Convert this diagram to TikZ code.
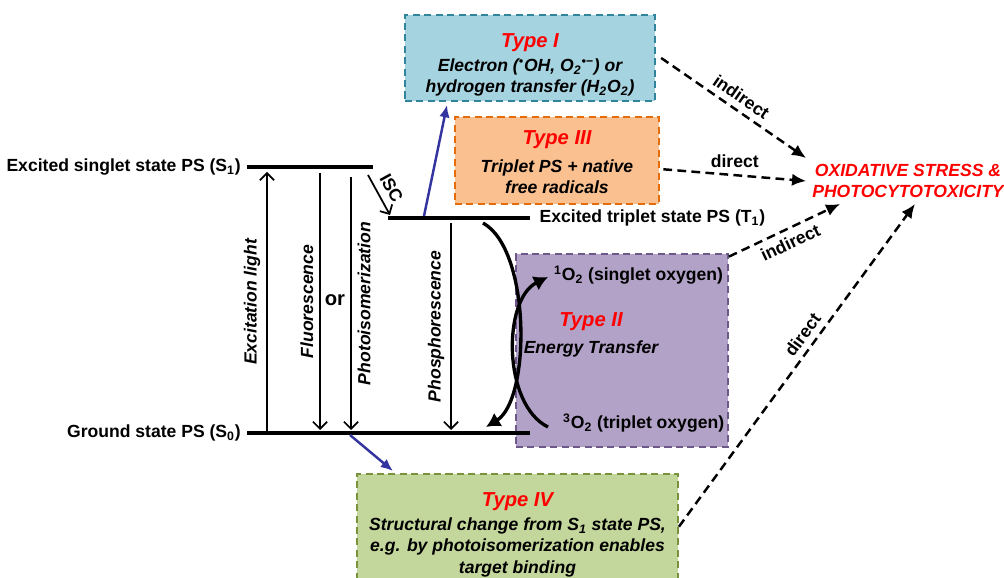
\documentclass[tikz,border=0pt]{standalone}
\usepackage{fontspec}
\setmainfont{Liberation Sans}
\usetikzlibrary{arrows.meta}

\definecolor{oneFill}{RGB}{166,211,224}
\definecolor{oneLine}{RGB}{49,133,155}
\definecolor{twoFill}{RGB}{179,162,199}
\definecolor{twoLine}{RGB}{110,88,138}
\definecolor{threeFill}{RGB}{250,192,144}
\definecolor{threeLine}{RGB}{228,108,10}
\definecolor{fourFill}{RGB}{195,214,155}
\definecolor{fourLine}{RGB}{119,147,60}
\definecolor{routeBlue}{RGB}{52,52,160}

\newcommand{\typename}[1]{{\fontsize{11.5}{14}\selectfont\color{red}#1}}

\begin{document}
\begin{tikzpicture}[
    every node/.style={font=\bfseries},
    lbl/.style={font=\bfseries\itshape},
    level/.style={line width=2.2pt},
    trans/.style={-{Straight Barb[length=4pt,width=8pt]}, line width=1pt},
    box/.style={draw, line width=1pt, dash pattern=on 4pt off 2.5pt, inner sep=0pt},
    boxtext/.style={align=center, font=\bfseries\itshape},
    route/.style={-{Latex[length=7pt,width=6pt]}, line width=1.4pt, draw=routeBlue},
    energy/.style={-{Latex[length=8pt,width=9pt]}, line width=1.9pt},
    effect/.style={-{Latex[length=8pt,width=7pt]}, line width=1.4pt,
                   dash pattern=on 5pt off 3pt}
  ]
  \useasboundingbox (0,0) rectangle (20.08,11.54);

  \node[box, fill=oneFill, draw=oneLine, minimum width=5cm, minimum height=1.72cm]
    (TI) at (10.60,10.38) {};
  \node[box, fill=threeFill, draw=threeLine, minimum width=4.08cm, minimum height=1.74cm]
    (TIII) at (11.14,8.33) {};
  \node[box, fill=twoFill, draw=twoLine, minimum width=4.24cm, minimum height=3.86cm]
    (TII) at (12.44,4.53) {};
  \node[box, fill=fourFill, draw=fourLine, minimum width=6.42cm, minimum height=2.32cm]
    (TIV) at (10.35,0.90) {};

  \node[boxtext] (TIt) at (10.60,10.24)
    {\typename{Type I}\\[2pt]
     Electron (\textsuperscript{•}OH, O\textsubscript{2}\textsuperscript{•−}) or\\
     hydrogen transfer (H\textsubscript{2}O\textsubscript{2})};
  \node[boxtext] (TIIIt) at (11.14,8.29)
    {\typename{Type III}\\[4pt] Triplet PS + native\\ free radicals};
  \node[boxtext] (TIVt) at (10.35,0.85)
    {\typename{Type IV}\\[2pt]
     Structural change from S\textsubscript{1} state PS,\\
     e.g. by photoisomerization enables\\ target binding};

  \node[anchor=west] (O1) at (10.96,6.04) {\textsuperscript{1}O\textsubscript{2} (singlet oxygen)};
  \node[anchor=west] (O3) at (11.14,3.08) {\textsuperscript{3}O\textsubscript{2} (triplet oxygen)};
  \node (TIIt) at (11.82,5.10) {\typename{\itshape Type II}};
  \node[lbl] (TIIe) at (11.82,4.56) {Energy Transfer};

  \coordinate (S1a) at (4.94,8.20);
  \coordinate (S1b) at (7.46,8.20);
  \coordinate (T1a) at (7.76,7.18);
  \coordinate (T1b) at (10.60,7.18);
  \coordinate (S0a) at (4.94,2.88);
  \coordinate (S0b) at (10.60,2.88);
  \draw[level] (S1a) -- (S1b);
  \draw[level] (T1a) -- (T1b);
  \draw[level] (S0a) -- (S0b);
  \node[left] (S1) at (S1a) {Excited singlet state PS (S\textsubscript{1})};
  \node[right, xshift=2pt] (T1) at (T1b) {Excited triplet state PS (T\textsubscript{1})};
  \node[left] (S0) at (S0a) {Ground state PS (S\textsubscript{0})};

  \coordinate (EXa) at (5.34,2.90);
  \coordinate (EXb) at (5.34,8.10);
  \coordinate (FLa) at (6.40,8.08);
  \coordinate (FLb) at (6.40,2.94);
  \coordinate (PIa) at (7.02,8.00);
  \coordinate (PIb) at (7.02,2.94);
  \coordinate (PHa) at (9.02,7.08);
  \coordinate (PHb) at (9.02,2.94);
  \coordinate (ISa) at (7.36,8.04);
  \coordinate (ISb) at (7.80,7.24);
  \draw[trans] (EXa) -- node[lbl, rotate=90, above] {Excitation light} (EXb);
  \draw[trans] (FLa) -- node[lbl, rotate=90, above] {Fluorescence} (FLb);
  \draw[trans] (PIa) -- node[lbl, rotate=90, below] {Photoisomerization} (PIb);
  \draw[trans] (PHa) -- node[lbl, rotate=90, above] {Phosphorescence} (PHb);
  \draw[trans] (ISa) -- node[sloped, above, inner sep=4pt] {ISC} (ISb);
  \node[font=\fontsize{11.5}{14}\selectfont\bfseries] (OR) at (6.70,5.54) {or};

  \coordinate (C1a) at (9.66,7.08);
  \coordinate (C1b) at (9.72,3.00);
  \coordinate (C2a) at (10.96,3.00);
  \coordinate (C2b) at (10.96,6.00);
  \draw[energy] (C1a) .. controls (10.62,6.55) and (10.62,3.55) .. (C1b);
  \draw[energy] (C2a) .. controls (10.05,3.45) and (10.05,5.55) .. (C2b);

  \coordinate (B1a) at (8.48,7.22);
  \coordinate (B1b) at (8.94,9.44);
  \coordinate (B2a) at (7.00,2.84);
  \coordinate (B2b) at (7.86,2.12);
  \draw[route] (B1a) -- (B1b);
  \draw[route] (B2a) -- (B2b);

  \node[align=center, text=red, font=\bfseries\itshape] (OX) at (18.16,7.92)
    {OXIDATIVE STRESS \&\\PHOTOCYTOTOXICITY};

  \draw[effect] ([xshift=3pt]TI.east) -- node[sloped, above] {indirect} (OX.north west);
  \draw[effect] ([xshift=2pt,yshift=-5pt]TIII.east) -- node[above] {direct} (OX.west);
  \draw[effect] ([yshift=-2pt]TII.north east) -- node[sloped, below] {indirect} ([xshift=0.68cm]OX.south west);
  \draw[effect] ([yshift=3pt]TIV.east) -- node[pos=0.57, sloped, above] {direct} ([xshift=0.14cm]OX.south);
\end{tikzpicture}
\end{document}
